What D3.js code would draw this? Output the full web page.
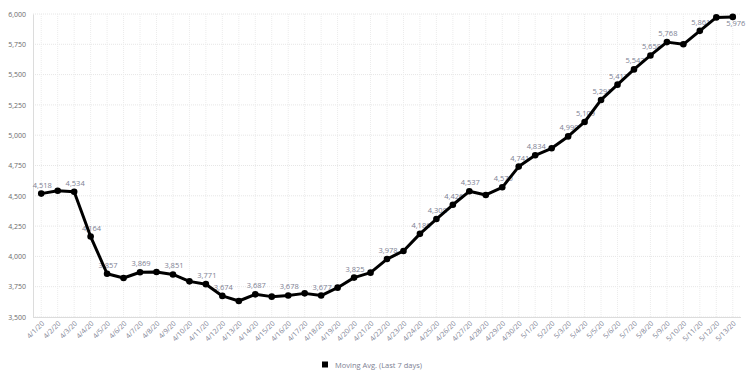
<!DOCTYPE html>
<html>
<head>
<meta charset="utf-8">
<script src="https://cdn.jsdelivr.net/npm/d3@7"></script>
<style>
  html, body { margin: 0; padding: 0; background: #fff; }
  svg { display: block; font-family: "Open Sans", sans-serif; }
</style>
</head>
<body>
<svg id="chart" width="749" height="375"></svg>
<script>
const dates = ["4/1/20","4/2/20","4/3/20","4/4/20","4/5/20","4/6/20","4/7/20","4/8/20","4/9/20","4/10/20",
  "4/11/20","4/12/20","4/13/20","4/14/20","4/15/20","4/16/20","4/17/20","4/18/20","4/19/20","4/20/20",
  "4/21/20","4/22/20","4/23/20","4/24/20","4/25/20","4/26/20","4/27/20","4/28/20","4/29/20","4/30/20",
  "5/1/20","5/2/20","5/3/20","5/4/20","5/5/20","5/6/20","5/7/20","5/8/20","5/9/20","5/10/20",
  "5/11/20","5/12/20","5/13/20"];
const movingAvg = [4518,4542,4534,4164,3857,3822,3869,3871,3851,3794,
  3771,3674,3632,3687,3668,3678,3695,3677,3742,3825,
  3866,3978,4045,4186,4308,4426,4537,4507,4570,4741,
  4834,4892,4990,5109,5291,5417,5543,5658,5768,5750,
  5861,5972,5976];
const labeledIdx = [0,2,3,4,6,8,10,11,13,15,17,19,21,23,24,25,26,28,29,30,32,33,34,35,36,37,38,40,42];
const yTicks = [3500,3750,4000,4250,4500,4750,5000,5250,5500,5750,6000];
const seriesName = "Moving Avg. (Last 7 days)";

(function () {
const svg = d3.select("#chart");
const mLeft = 33, mRight = 741, mTop = 14, mBottom = 317;

const x = d3.scalePoint().domain(dates).range([mLeft, mRight]).padding(0.5);
const y = d3.scaleLinear().domain([3500, 6000]).range([mBottom, mTop]);
const fmt = d3.format(",");

// grid
const grid = svg.append("g");
grid.selectAll("line.h").data(yTicks).join("line")
  .attr("x1", mLeft).attr("x2", mRight)
  .attr("y1", d => y(d)).attr("y2", d => y(d))
  .attr("stroke", "#e6e6e6").attr("stroke-width", 1).attr("stroke-dasharray", "1,1");
grid.selectAll("line.v").data(dates).join("line")
  .attr("x1", d => x(d)).attr("x2", d => x(d))
  .attr("y1", mTop).attr("y2", mBottom)
  .attr("stroke", "#ececec").attr("stroke-width", 1).attr("stroke-dasharray", "1,1");

// axes
const yAxis = svg.append("g").attr("transform", `translate(${mLeft},0)`)
  .call(d3.axisLeft(y).tickValues(yTicks).tickFormat(fmt).tickSize(0).tickPadding(7));
yAxis.select(".domain").attr("stroke", "#dcdcdc");
yAxis.selectAll("text").attr("fill", "#6b6b6b").attr("font-size", "7px")
  .attr("font-family", "Open Sans, sans-serif");

const xAxis = svg.append("g").attr("transform", `translate(0,${mBottom})`)
  .call(d3.axisBottom(x).tickSize(0).tickPadding(0));
xAxis.select(".domain").attr("stroke", "#dcdcdc").attr("d", `M${mLeft},0.5H${mRight}`);
xAxis.selectAll("text")
  .attr("fill", "#7d8193").attr("font-size", "7px").attr("font-family", "Open Sans, sans-serif")
  .attr("text-anchor", "end").attr("dy", null).attr("y", 0)
  .attr("transform", "translate(3,7) rotate(-45)");

// data labels (under the line)
const pts = dates.map((d, i) => ({ d, v: movingAvg[i], i }));
const lbl = svg.append("g");
lbl.selectAll("text").data(labeledIdx.map(i => pts[i])).join("text")
  .attr("x", p => y(p.v) - 12 < mTop ? x(p.d) + 3 : x(p.d) + 1)
  .attr("y", p => y(p.v) - 12 < mTop ? y(p.v) + 9 : y(p.v) - 6)
  .attr("text-anchor", "middle")
  .attr("fill", "#7d8193").attr("font-size", "7.5px")
  .text(p => fmt(p.v));

// line
svg.append("path").datum(pts)
  .attr("fill", "none").attr("stroke", "#000").attr("stroke-width", 3)
  .attr("stroke-linejoin", "round")
  .attr("d", d3.line().x(p => x(p.d)).y(p => y(p.v)));
svg.append("g").selectAll("circle").data(pts).join("circle")
  .attr("cx", p => x(p.d)).attr("cy", p => y(p.v)).attr("r", 3.3).attr("fill", "#000");

// legend
const lg = svg.append("g");
lg.append("rect").attr("x", 322).attr("y", 361.5).attr("width", 6).attr("height", 6).attr("fill", "#000");
lg.append("text").attr("x", 335).attr("y", 367.5).attr("fill", "#7d8193").attr("font-size", "7.5px")
  .text(seriesName);
})();
</script>
</body>
</html>
